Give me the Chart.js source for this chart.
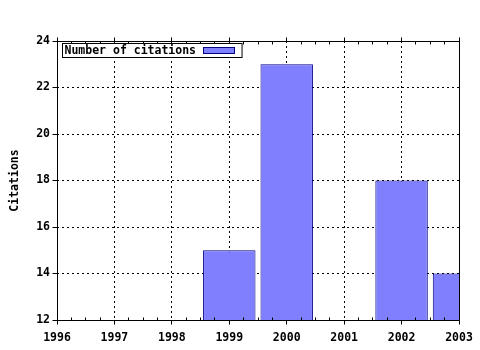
<!DOCTYPE html>
<html>
<head>
<meta charset="utf-8">
<script src="https://cdn.jsdelivr.net/npm/chart.js@4"></script>
<style>
html,body{margin:0;padding:0;background:#fff;}
canvas{display:block;}
</style>
</head>
<body>
<canvas id="c" width="480" height="350"></canvas>
<script>
const years = ['1996','1997','1998','1999','2000','2001','2002','2003'];
const citations = [null, null, null, 15, 23, null, 18, 14];
const yTicks = [12, 14, 16, 18, 20, 22, 24];
const seriesLabel = 'Number of citations';
const yTitle = 'Citations';

const FONT = {family: '"DejaVu Sans Mono", "Liberation Mono", monospace', size: 11.5, weight: 'bold'};
const FILL = '#8080ff';
const EDGE = '#000080';

const framePlugin = {
  id: 'frame',
  afterDatasetsDraw(chart) {
    const {ctx, chartArea: a, scales: {x, y}} = chart;
    const al = v => Math.floor(v) + 0.5;
    const L = al(a.left), R = al(a.right), T = al(a.top), B = al(a.bottom);
    ctx.save();
    ctx.setLineDash([]);
    ctx.strokeStyle = '#000';
    ctx.lineWidth = 1;
    ctx.beginPath();
    ctx.rect(L, T, R - L, B - T);
    for (let i = 0; i < years.length; i++) {
      const px = al(x.getPixelForValue(i));
      ctx.moveTo(px, B); ctx.lineTo(px, B + 4);
      ctx.moveTo(px, T); ctx.lineTo(px, T - 4);
      if (i < years.length - 1) {
        for (let k = 1; k < 4; k++) {
          const mx = al(x.getPixelForValue(i + k / 4));
          ctx.moveTo(mx, B); ctx.lineTo(mx, B - 3);
          ctx.moveTo(mx, T); ctx.lineTo(mx, T + 3);
        }
      }
    }
    for (const v of yTicks) {
      const py = al(y.getPixelForValue(v));
      ctx.moveTo(L, py); ctx.lineTo(L - 5, py);
    }
    ctx.stroke();
    ctx.restore();
  },
  afterDraw(chart) {
    const {ctx, chartArea: a} = chart;
    ctx.save();
    ctx.font = `${FONT.weight} ${FONT.size}px ${FONT.family}`;
    const tw = ctx.measureText(seriesLabel).width;
    const bx = Math.floor(a.left) + 5.5, by = Math.floor(a.top) + 2.5;
    const bw = tw + 48, bh = 14;
    ctx.fillStyle = '#fff';
    ctx.fillRect(bx, by, bw, bh);
    ctx.strokeStyle = '#000';
    ctx.lineWidth = 1;
    ctx.strokeRect(bx, by, bw, bh);
    ctx.fillStyle = '#000';
    ctx.textBaseline = 'middle';
    ctx.textAlign = 'left';
    ctx.fillText(seriesLabel, bx + 2, by + bh / 2 + 0.5);
    const sx = Math.round(bx + tw + 9) + 0.5, sy = by + 4;
    ctx.fillStyle = FILL;
    ctx.fillRect(sx, sy, 31, 6);
    ctx.strokeStyle = EDGE;
    ctx.strokeRect(sx, sy, 31, 6);
    ctx.restore();
  }
};

new Chart(document.getElementById('c'), {
  type: 'bar',
  data: {
    labels: years,
    datasets: [{
      label: seriesLabel,
      data: citations,
      backgroundColor: FILL,
      borderColor: EDGE,
      borderWidth: 1,
      borderSkipped: 'start',
      inflateAmount: 0,
      categoryPercentage: 1,
      barPercentage: 0.913,
      clip: 0
    }]
  },
  options: {
    responsive: false,
    animation: false,
    devicePixelRatio: 1,
    layout: {padding: {top: 41, right: 21, left: 0, bottom: 0}},
    plugins: {legend: {display: false}, tooltip: {enabled: false}},
    scales: {
      x: {
        type: 'category',
        offset: false,
        grid: {display: true, offset: false, drawTicks: false, color: '#000', lineWidth: 1},
        border: {display: false, dash: [2, 3]},
        ticks: {color: '#000', font: FONT, padding: 11, autoSkip: false, maxRotation: 0, minRotation: 0},
        afterFit(s) { s.height = 30; s.paddingLeft = 0; s.paddingRight = 0; }
      },
      y: {
        min: 12,
        max: 24,
        grid: {display: true, drawTicks: false, color: '#000', lineWidth: 1},
        border: {display: false, dash: [2, 3]},
        ticks: {stepSize: 2, color: '#000', font: FONT, padding: 7},
        title: {display: true, text: yTitle, color: '#000', font: FONT, padding: {top: 8, bottom: 0}},
        afterFit(s) { s.width = 57; s.paddingTop = 0; s.paddingBottom = 0; }
      }
    }
  },
  plugins: [framePlugin]
});
</script>
</body>
</html>
